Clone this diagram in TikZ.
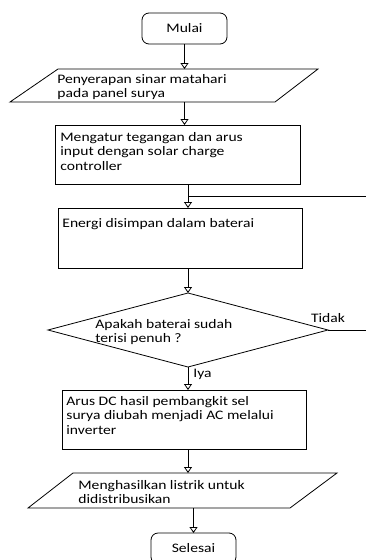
\documentclass[tikz,border=0pt]{standalone}
\usepackage{fontspec}
\setmainfont{Carlito}[FakeStretch=1.2]
\usepackage{tikz}
\usetikzlibrary{arrows.meta, positioning, shapes.geometric}
\tikzset{
  term/.style  = {draw, rounded corners=7pt, minimum width=85pt,
                  minimum height=31pt, inner sep=0pt, outer sep=0pt},
  proc/.style  = {draw, minimum width=245pt, minimum height=59pt, inner sep=0pt,
                  outer sep=0pt},
  io/.style    = {minimum height=33pt, inner sep=0pt, outer sep=0pt},
  dec/.style   = {draw, diamond, minimum width=280pt, minimum height=74pt,
                  inner sep=1pt, outer sep=0pt},
  txt/.style   = {align=left, inner sep=0pt, anchor=north west},
  lbl/.style   = {inner sep=1pt},
  fl/.style    = {-{Triangle[open, length=6pt, width=8pt]}, line width=0.8pt},
  ln/.style    = {line width=0.8pt},
}

\begin{document}
\begin{tikzpicture}[node distance=24pt, line width=0.8pt,
    font=\fontsize{13pt}{14.5pt}\selectfont]
    \useasboundingbox (0,0) rectangle (366pt,-560pt);
    % start
    \node[term] (mulai) at (184.5pt,-28.5pt) {Mulai};
    % input: sunlight
    \node[io, below=25pt of mulai, xshift=-20.5pt, minimum width=308pt] (serap) {};
    \draw[ln] ([xshift=48pt]serap.north west) -- (serap.north east)
      -- ([xshift=-43pt]serap.south east) -- (serap.south west) -- cycle;
    \node[txt] (serap-t) at ([xshift=47pt, yshift=-5pt]serap.north west)
      {Penyerapan sinar matahari\\pada panel surya};
    % charge controller
    \node[proc, below=23pt of serap, xshift=13.5pt] (atur) {};
    \node[txt] (atur-t) at ([xshift=5pt, yshift=-7pt]atur.north west)
      {Mengatur tegangan dan arus\\input dengan solar charge\\controller};
    % battery
    \node[proc, below=24pt of atur, xshift=2.5pt, minimum width=244pt,
          minimum height=60pt] (simpan) {};
    \node[txt] (simpan-t) at ([xshift=4pt, yshift=-10pt]simpan.north west)
      {Energi disimpan dalam baterai};
    % decision
    \node[dec, below=25pt of simpan, xshift=8pt] (penuh) {};
    \node[txt] (penuh-t) at ([xshift=47pt, yshift=11pt]penuh.west)
      {Apakah baterai sudah\\terisi penuh ?};
    % inverter
    \node[proc, below=23pt of penuh, xshift=-4pt, minimum width=244pt] (inv) {};
    \node[txt] (inv-t) at ([xshift=4pt, yshift=-6pt]inv.north west)
      {Arus DC hasil pembangkit sel\\surya diubah menjadi AC melalui\\inverter};
    % output
    \node[io, below=24pt of inv, xshift=-1.5pt, minimum width=309pt,
          minimum height=35pt] (hasil) {};
    \draw[ln] ([xshift=45pt]hasil.north west) -- (hasil.north east)
      -- ([xshift=-47pt]hasil.south east) -- (hasil.south west) -- cycle;
    \node[txt] (hasil-t) at ([xshift=50pt, yshift=-7pt]hasil.north west)
      {Menghasilkan listrik untuk\\didistribusikan};
    % end
    \node[term, below=25pt of hasil, xshift=11pt] (selesai) {Selesai};
    % edge of the page for the loop lines
    \coordinate (kanan) at (366pt,-196pt);
    % flow
    \draw[fl] (mulai.south) -- (mulai.south |- serap.north);
    \draw[fl] (mulai.south |- serap.south) -- (mulai.south |- atur.north);
    \draw[fl] (penuh.north |- atur.south) -- (penuh.north |- simpan.north);
    \draw[ln] (kanan -| penuh.north) -- (kanan);
    \draw[fl] (penuh.north |- simpan.south) -- (penuh.north);
    \draw[ln] (penuh.east) -- (penuh.east -| kanan)
      node[lbl, pos=0, above, yshift=6pt] {Tidak};
    \draw[fl] (penuh.south) -- (penuh.south |- inv.north)
      node[lbl, pos=0, anchor=north west, xshift=4pt, yshift=-1pt] {Iya};
    \draw[fl] (penuh.south |- inv.south) -- (penuh.south |- hasil.north);
    \draw[fl] (selesai.north |- hasil.south) -- (selesai.north);
\end{tikzpicture}
\end{document}
